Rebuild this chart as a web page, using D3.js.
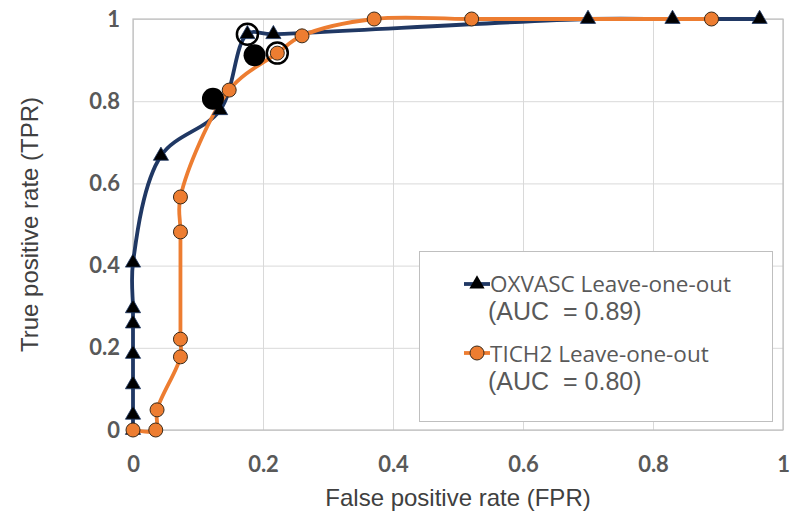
<!DOCTYPE html>
<html>
<head>
<meta charset="utf-8">
<script src="https://cdn.jsdelivr.net/npm/d3@7"></script>
<style>
  body { margin: 0; background: #fff; }
  svg text { font-family: "Liberation Sans", Arial, sans-serif; }
</style>
</head>
<body>
<div id="chart"></div>
<script>
const layout = {
    width: 791,
    height: 523,
    marginLeft: 133,
    marginTop: 19,
    chartWidth: 650,
    chartHeight: 411
};

// OXVASC leave-one-out ROC points
const oxFpr = [0, 0, 0, 0, 0, 0, 0, 0.043, 0.134, 0.176, 0.216, 0.70, 0.83, 0.964];
const oxTpr = [0, 0.037, 0.111, 0.185, 0.259, 0.296, 0.407, 0.667, 0.778, 0.963, 0.963, 1, 1, 1];

// TICH2 leave-one-out ROC points
const tiFpr = [0, 0.035, 0.037, 0.073, 0.073, 0.073, 0.073, 0.148, 0.222, 0.26, 0.371, 0.521, 0.89];
const tiTpr = [0, 0, 0.049, 0.178, 0.221, 0.482, 0.567, 0.827, 0.917, 0.959, 1, 1, 1];

// highlighted points
const filledFpr = [0.123, 0.187];
const filledTpr = [0.806, 0.912];
const ringFpr = [0.176, 0.222];
const ringTpr = [0.963, 0.917];

const tickValues = [0, 0.2, 0.4, 0.6, 0.8, 1];
const legendNames = ["OXVASC Leave-one-out", "TICH2 Leave-one-out"];
const legendAuc = ["(AUC  = 0.89)", "(AUC  = 0.80)"];

const navy = "#203864";
const orange = "#ED7D31";

const svg = d3.select("#chart").append("svg")
    .attr("width", layout.width)
    .attr("height", layout.height);

const x = d3.scaleLinear().domain([0, 1]).range([0, layout.chartWidth]);
const y = d3.scaleLinear().domain([0, 1]).range([layout.chartHeight, 0]);

const plot = svg.append("g")
    .attr("transform", `translate(${layout.marginLeft},${layout.marginTop})`);

// grid
plot.append("g")
    .call(d3.axisBottom(x).tickValues(tickValues).tickSize(layout.chartHeight).tickFormat(""))
    .call(g => g.select(".domain").remove())
    .selectAll("line").attr("stroke", "#d9d9d9").attr("stroke-width", 1);
plot.append("g")
    .call(d3.axisLeft(y).tickValues(tickValues).tickSize(-layout.chartWidth).tickFormat(""))
    .call(g => g.select(".domain").remove())
    .selectAll("line").attr("stroke", "#d9d9d9").attr("stroke-width", 1);

// plot area border
plot.append("rect")
    .attr("width", layout.chartWidth)
    .attr("height", layout.chartHeight)
    .attr("fill", "none")
    .attr("stroke", "#bfbfbf")
    .attr("stroke-width", 1.2);

// tick labels
let xAxis = plot.append("g")
    .attr("transform", `translate(0,${layout.chartHeight})`)
    .call(d3.axisBottom(x).tickValues(tickValues).tickSize(0).tickPadding(26).tickFormat(d3.format("")));
xAxis.select(".domain").remove();
xAxis.selectAll("text")
    .attr("fill", "#595959")
    .attr("font-size", 22)
    .attr("font-weight", "bold")
    .style("font-family", "Lato, 'Open Sans', sans-serif");

let yAxis = plot.append("g")
    .call(d3.axisLeft(y).tickValues(tickValues).tickSize(0).tickPadding(13).tickFormat(d3.format("")));
yAxis.select(".domain").remove();
yAxis.selectAll("text")
    .attr("fill", "#595959")
    .attr("font-size", 22)
    .attr("font-weight", "bold")
    .style("font-family", "Lato, 'Open Sans', sans-serif");

// axis titles
svg.append("text")
    .attr("x", layout.marginLeft + layout.chartWidth / 2)
    .attr("y", 506)
    .attr("text-anchor", "middle")
    .attr("font-size", 24)
    .attr("fill", "#404040")
    .text("False positive rate (FPR)");

svg.append("text")
    .attr("transform", `translate(38,${layout.marginTop + layout.chartHeight / 2}) rotate(-90)`)
    .attr("text-anchor", "middle")
    .attr("font-size", 24)
    .attr("fill", "#404040")
    .text("True positive rate (TPR)");

// series
const line = d3.line()
    .x(d => x(d[0]))
    .y(d => y(d[1]))
    .curve(d3.curveCatmullRom.alpha(0.5));

const oxData = oxFpr.map((d, i) => [d, oxTpr[i]]);
const tiData = tiFpr.map((d, i) => [d, tiTpr[i]]);

plot.append("path")
    .datum(oxData)
    .attr("fill", "none")
    .attr("stroke", navy)
    .attr("stroke-width", 3.8)
    .attr("d", line);

plot.append("path")
    .datum(tiData)
    .attr("fill", "none")
    .attr("stroke", orange)
    .attr("stroke-width", 3.8)
    .attr("d", line);

const tri = d3.symbol().type(d3.symbolTriangle).size(100);

plot.append("g").selectAll("path")
    .data(oxData)
    .join("path")
    .attr("transform", d => `translate(${x(d[0])},${y(d[1])})`)
    .attr("d", tri)
    .attr("fill", "#000")
    .attr("stroke", navy)
    .attr("stroke-width", 0.8);

plot.append("g").selectAll("circle")
    .data(tiData)
    .join("circle")
    .attr("cx", d => x(d[0]))
    .attr("cy", d => y(d[1]))
    .attr("r", 7)
    .attr("fill", orange)
    .attr("stroke", "#3a2a1a")
    .attr("stroke-width", 1);

// optimal points
plot.append("g").selectAll("circle")
    .data(filledFpr.map((d, i) => [d, filledTpr[i]]))
    .join("circle")
    .attr("cx", d => x(d[0]))
    .attr("cy", d => y(d[1]))
    .attr("r", 11)
    .attr("fill", "#000");

plot.append("g").selectAll("circle")
    .data(ringFpr.map((d, i) => [d, ringTpr[i]]))
    .join("circle")
    .attr("cx", d => x(d[0]))
    .attr("cy", d => y(d[1]))
    .attr("r", 10.5)
    .attr("fill", "none")
    .attr("stroke", "#000")
    .attr("stroke-width", 2.5);

// legend
const legend = svg.append("g");
legend.append("rect")
    .attr("x", 419.5)
    .attr("y", 251.5)
    .attr("width", 353)
    .attr("height", 170)
    .attr("fill", "#fff")
    .attr("stroke", "#bfbfbf")
    .attr("stroke-width", 1);

const legendRows = [
    { color: navy, marker: "tri", y: 284, nameY: 292, aucY: 320 },
    { color: orange, marker: "circle", y: 353, nameY: 362, aucY: 390 }
];
legendRows.forEach((r, i) => {
    legend.append("line")
        .attr("x1", 464).attr("x2", 490)
        .attr("y1", r.y).attr("y2", r.y)
        .attr("stroke", r.color)
        .attr("stroke-width", 3.8);
    if (r.marker === "tri") {
        legend.append("path")
            .attr("transform", `translate(477,${r.y})`)
            .attr("d", tri)
            .attr("fill", "#000");
    } else {
        legend.append("circle")
            .attr("cx", 477).attr("cy", r.y).attr("r", 7)
            .attr("fill", orange)
            .attr("stroke", "#3a2a1a");
    }
    legend.append("text")
        .attr("x", 490)
        .attr("y", r.nameY)
        .attr("font-size", 22.5)
        .attr("fill", "#595959")
        .style("font-family", "'Open Sans', 'Liberation Sans', sans-serif")
        .text(legendNames[i]);
    legend.append("text")
        .attr("x", 488)
        .attr("y", r.aucY)
        .attr("font-size", 25)
        .attr("fill", "#595959")
        .style("white-space", "pre")
        .text(legendAuc[i]);
});
</script>
</body>
</html>
